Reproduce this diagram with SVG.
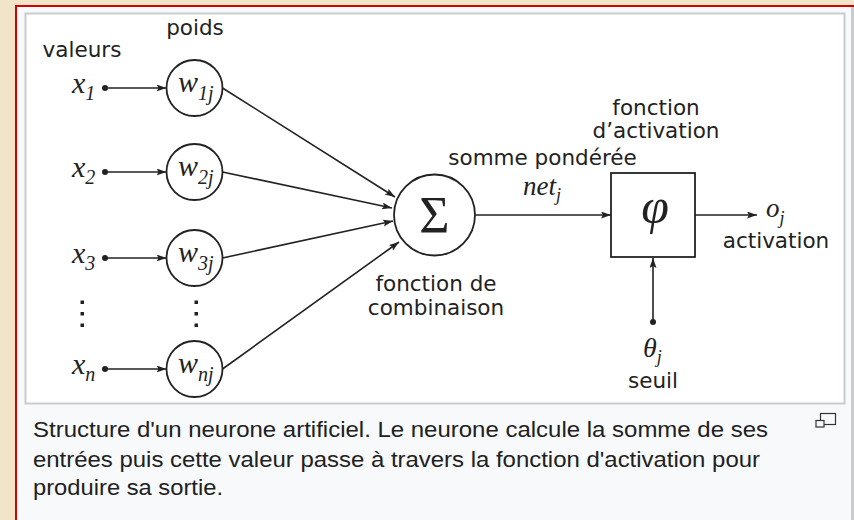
<svg xmlns="http://www.w3.org/2000/svg" width="854" height="520" viewBox="0 0 854 520">
<defs>
<marker id="ah" markerWidth="12" markerHeight="8" refX="10" refY="3.5" orient="auto" markerUnits="userSpaceOnUse"><path d="M0,0 L10,3.5 L0,7 L2,3.5 z" fill="#222"/></marker>
</defs>
<style>
.lbl{font-family:"DejaVu Sans",sans-serif;font-size:21.5px;fill:#222}
.m{font-family:"Liberation Serif","DejaVu Serif",serif;font-style:italic;fill:#222}
.ln{stroke:#222;stroke-width:1.6;fill:none;marker-end:url(#ah)}
.nd{fill:#fff;stroke:#222;stroke-width:1.8}
.dot{fill:#222}
.cap{font-family:"Liberation Sans",Arial,sans-serif;font-size:22px;fill:#202122}
</style>
<rect x="0" y="0" width="854" height="520" fill="#f2e4c8"/>
<rect x="17" y="6" width="834" height="514" fill="#f8f9fa"/>
<rect x="851" y="6" width="3" height="514" fill="#c8ccd1"/>
<rect x="15" y="5" width="839" height="2" fill="#d40000"/>
<rect x="15" y="5" width="2" height="515" fill="#d40000"/>
<rect x="25.5" y="13.5" width="819" height="390" fill="#fff" stroke="#c8ccd1" stroke-width="2"/>

<g id="connectors">
<line class="ln" x1="105" y1="88" x2="166.5" y2="88"/>
<line class="ln" x1="105" y1="172" x2="166.5" y2="172"/>
<line class="ln" x1="105" y1="258" x2="166.5" y2="258"/>
<line class="ln" x1="105" y1="369" x2="166.5" y2="369"/>
<line class="ln" x1="222.5" y1="88" x2="395" y2="197"/>
<line class="ln" x1="222.5" y1="172" x2="392" y2="208"/>
<line class="ln" x1="222.5" y1="258" x2="393" y2="221"/>
<line class="ln" x1="222.5" y1="369" x2="399" y2="242"/>
<line class="ln" x1="475.5" y1="215" x2="611" y2="215"/>
<line class="ln" x1="695" y1="215" x2="757" y2="215"/>
<line class="ln" x1="653" y1="322" x2="653" y2="258"/>
</g>

<g id="headers">
<text class="lbl" x="82" y="57" text-anchor="middle">valeurs</text>
<text class="lbl" x="195" y="35" text-anchor="middle">poids</text>
</g>

<g id="x1"><text class="m" x="72" y="93" font-size="30">x<tspan font-size="20" dy="7">1</tspan></text><circle class="dot" cx="105" cy="88" r="3"/></g>
<g id="x2"><text class="m" x="72" y="177" font-size="30">x<tspan font-size="20" dy="7">2</tspan></text><circle class="dot" cx="105" cy="172" r="3"/></g>
<g id="x3"><text class="m" x="72" y="263" font-size="30">x<tspan font-size="20" dy="7">3</tspan></text><circle class="dot" cx="105" cy="258" r="3"/></g>
<g id="xn"><text class="m" x="72" y="374" font-size="30">x<tspan font-size="20" dy="7">n</tspan></text><circle class="dot" cx="105" cy="369" r="3"/></g>

<g id="vdots-x"><rect class="dot" x="80.5" y="300.5" width="3.5" height="3.5"/><rect class="dot" x="80.5" y="312" width="3.5" height="3.5"/><rect class="dot" x="80.5" y="323.5" width="3.5" height="3.5"/></g>
<g id="vdots-w"><rect class="dot" x="194.5" y="300.5" width="3.5" height="3.5"/><rect class="dot" x="194.5" y="312" width="3.5" height="3.5"/><rect class="dot" x="194.5" y="323.5" width="3.5" height="3.5"/></g>

<g id="w1"><circle class="nd" cx="194.5" cy="88" r="28"/><text class="m" x="178" y="92" font-size="30">w<tspan font-size="20" dy="8">1j</tspan></text></g>
<g id="w2"><circle class="nd" cx="194.5" cy="172" r="28"/><text class="m" x="178" y="176" font-size="30">w<tspan font-size="20" dy="8">2j</tspan></text></g>
<g id="w3"><circle class="nd" cx="194.5" cy="258" r="28"/><text class="m" x="178" y="262" font-size="30">w<tspan font-size="20" dy="8">3j</tspan></text></g>
<g id="wn"><circle class="nd" cx="194.5" cy="369" r="28"/><text class="m" x="178" y="373" font-size="30">w<tspan font-size="20" dy="8">nj</tspan></text></g>

<g id="sum">
<circle class="nd" cx="434.5" cy="215" r="40.5"/>
<text x="434.5" y="233" text-anchor="middle" font-family="Liberation Serif,DejaVu Serif,serif" font-size="52" fill="#222">Σ</text>
<text class="lbl" x="436" y="291" text-anchor="middle">fonction de</text>
<text class="lbl" x="436" y="315" text-anchor="middle">combinaison</text>
</g>

<g id="net">
<text class="lbl" x="542.5" y="165" text-anchor="middle">somme pondérée</text>
<text class="m" x="523" y="195" font-size="27">net<tspan font-size="18" dy="6">j</tspan></text>
</g>

<g id="activation-fn">
<rect class="nd" x="611" y="173" width="84" height="84"/>
<text class="m" x="655" y="223" text-anchor="middle" font-size="50">φ</text>
<text class="lbl" x="656" y="115" text-anchor="middle">fonction</text>
<text class="lbl" x="656" y="138" text-anchor="middle">d’activation</text>
</g>

<g id="output">
<text class="m" x="766" y="217" font-size="27">o<tspan font-size="18" dy="7">j</tspan></text>
<text class="lbl" x="776" y="248" text-anchor="middle">activation</text>
</g>

<g id="threshold">
<circle class="dot" cx="653" cy="322" r="3"/>
<text class="m" x="643" y="357" font-size="28">θ<tspan font-size="18" dy="6">j</tspan></text>
<text class="lbl" x="653" y="388" text-anchor="middle">seuil</text>
</g>

<g id="caption">
<text class="cap" x="33" y="437" textLength="735" lengthAdjust="spacingAndGlyphs">Structure d'un neurone artificiel. Le neurone calcule la somme de ses</text>
<text class="cap" x="33" y="467" textLength="727" lengthAdjust="spacingAndGlyphs">entrées puis cette valeur passe à travers la fonction d'activation pour</text>
<text class="cap" x="33" y="495" textLength="190" lengthAdjust="spacingAndGlyphs">produire sa sortie.</text>
</g>

<g id="enlarge-icon">
<rect x="820.5" y="413.5" width="15" height="11" fill="none" stroke="#333" stroke-width="1.2"/>
<rect x="816" y="420.5" width="8" height="6.5" fill="#f8f9fa" stroke="#333" stroke-width="1.2"/>
</g>
</svg>
